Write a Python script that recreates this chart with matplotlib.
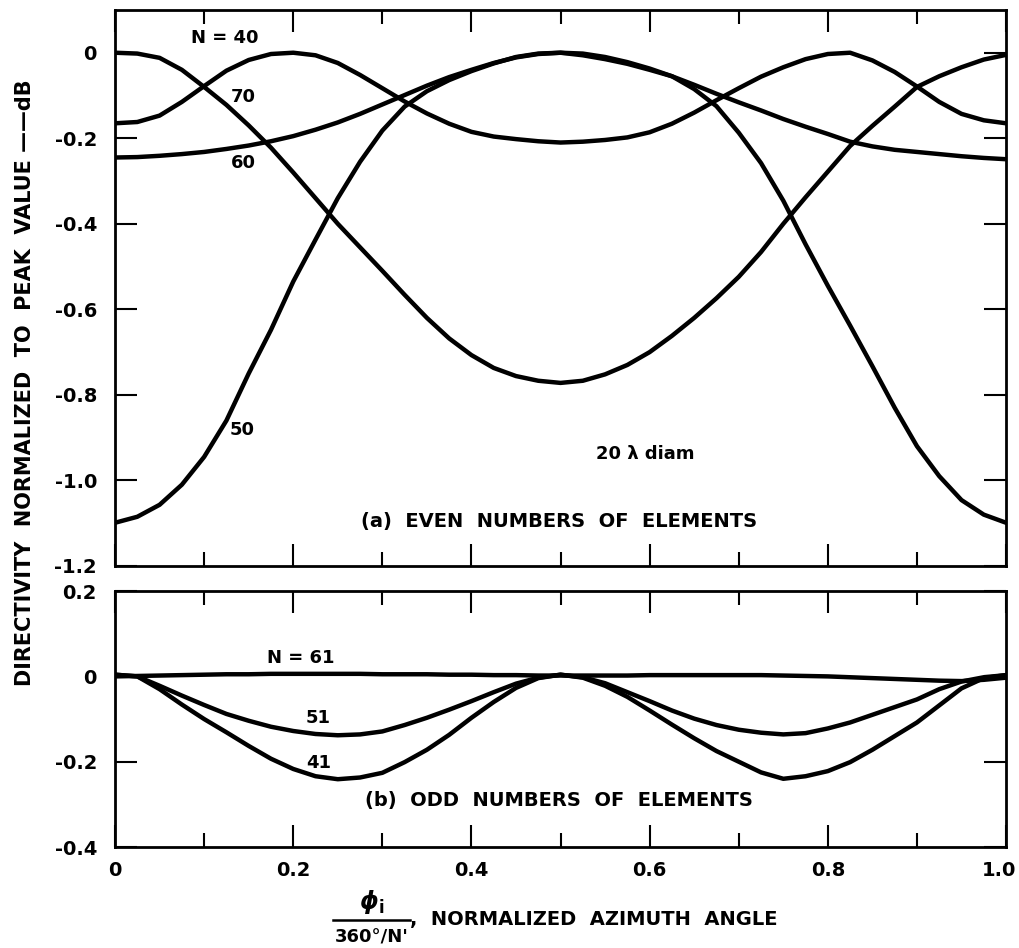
# Directivity vs normalized azimuth angle, 20 lambda diameter ring
import matplotlib.pyplot as plt
from matplotlib.lines import Line2D
from matplotlib.ticker import MultipleLocator
from matplotlib.transforms import ScaledTranslation

plt.rcParams['font.family'] = ['DejaVu Sans']
plt.rcParams['font.weight'] = 'bold'
plt.rcParams['axes.unicode_minus'] = False

# normalized azimuth angle (phi_i / (360/N))
phi = [0.000, 0.025, 0.050, 0.075, 0.100, 0.125, 0.150, 0.175, 0.200, 0.225,
       0.250, 0.275, 0.300, 0.325, 0.350, 0.375, 0.400, 0.425, 0.450, 0.475,
       0.500, 0.525, 0.550, 0.575, 0.600, 0.625, 0.650, 0.675, 0.700, 0.725,
       0.750, 0.775, 0.800, 0.825, 0.850, 0.875, 0.900, 0.925, 0.950, 0.975, 1.000]

# (a) even numbers of elements, dB relative to peak
even_40 = [0.000, -0.002, -0.012, -0.040, -0.080, -0.122, -0.170, -0.222, -0.280, -0.340,
           -0.400, -0.455, -0.510, -0.566, -0.620, -0.668, -0.707, -0.737, -0.756, -0.767,
           -0.772, -0.767, -0.752, -0.730, -0.700, -0.662, -0.620, -0.574, -0.524, -0.466,
           -0.400, -0.338, -0.278, -0.218, -0.171, -0.126, -0.080, -0.055, -0.034, -0.016, -0.005]
even_50 = [-1.099, -1.085, -1.057, -1.010, -0.945, -0.860, -0.750, -0.648, -0.535, -0.437,
           -0.340, -0.255, -0.182, -0.126, -0.090, -0.064, -0.043, -0.025, -0.010, -0.002,
           0.000, -0.002, -0.010, -0.022, -0.037, -0.055, -0.085, -0.125, -0.187, -0.258,
           -0.346, -0.448, -0.545, -0.638, -0.733, -0.830, -0.920, -0.990, -1.046, -1.080, -1.099]
even_60 = [-0.245, -0.244, -0.241, -0.237, -0.232, -0.225, -0.217, -0.207, -0.195, -0.180,
           -0.163, -0.143, -0.121, -0.099, -0.077, -0.057, -0.040, -0.024, -0.011, -0.003,
           0.000, -0.006, -0.015, -0.026, -0.040, -0.055, -0.075, -0.096, -0.116, -0.135,
           -0.155, -0.173, -0.190, -0.208, -0.219, -0.227, -0.232, -0.237, -0.242, -0.246, -0.249]
even_70 = [-0.165, -0.162, -0.147, -0.115, -0.078, -0.042, -0.017, -0.003, 0.000, -0.006,
           -0.024, -0.052, -0.083, -0.114, -0.142, -0.166, -0.185, -0.196, -0.202, -0.207,
           -0.210, -0.208, -0.204, -0.198, -0.186, -0.166, -0.140, -0.111, -0.083, -0.056,
           -0.034, -0.015, -0.003, 0.000, -0.018, -0.045, -0.079, -0.115, -0.143, -0.158, -0.165]

# (b) odd numbers of elements
odd_41 = [0.004, 0.000, -0.030, -0.066, -0.100, -0.131, -0.163, -0.193, -0.217, -0.234,
          -0.241, -0.237, -0.226, -0.201, -0.172, -0.137, -0.097, -0.060, -0.027, -0.004,
          0.004, -0.003, -0.022, -0.048, -0.080, -0.113, -0.145, -0.175, -0.200, -0.225,
          -0.240, -0.234, -0.222, -0.201, -0.172, -0.140, -0.108, -0.068, -0.028, -0.004, 0.003]
odd_51 = [0.004, 0.000, -0.022, -0.045, -0.067, -0.088, -0.104, -0.118, -0.128, -0.135,
          -0.138, -0.136, -0.129, -0.114, -0.097, -0.078, -0.058, -0.037, -0.017, -0.003,
          0.004, -0.002, -0.016, -0.037, -0.058, -0.080, -0.099, -0.114, -0.125, -0.132,
          -0.136, -0.133, -0.122, -0.108, -0.090, -0.072, -0.054, -0.030, -0.012, -0.002, 0.003]
odd_61 = [0.000, 0.001, 0.002, 0.003, 0.004, 0.005, 0.005, 0.006, 0.006, 0.006,
          0.006, 0.006, 0.005, 0.005, 0.005, 0.004, 0.004, 0.003, 0.003, 0.002,
          0.002, 0.002, 0.002, 0.002, 0.003, 0.003, 0.003, 0.003, 0.003, 0.003,
          0.002, 0.001, 0.000, -0.002, -0.004, -0.006, -0.008, -0.010, -0.011, -0.008, -0.003]

x_ticks = [0, 0.2, 0.4, 0.6, 0.8, 1.0]
x_labels = ['0', '0.2', '0.4', '0.6', '0.8', '1.0']
top_yticks = [0, -0.2, -0.4, -0.6, -0.8, -1.0, -1.2]
top_ylabels = ['0', '-0.2', '-0.4', '-0.6', '-0.8', '-1.0', '-1.2']
bot_yticks = [0.2, 0, -0.2, -0.4]
bot_ylabels = ['0.2', '0', '-0.2', '-0.4']

fig = plt.figure(figsize=(10.19, 9.48), dpi=100)
ax_top = fig.add_axes([0.1129, 0.403, 0.8744, 0.5865])
ax_bot = fig.add_axes([0.1129, 0.1065, 0.8744, 0.270])

lw = 3.2
for y in (even_40, even_50, even_60, even_70):
    ax_top.plot(phi, y, color='black', lw=lw, solid_joinstyle='round')
for y in (odd_41, odd_51, odd_61):
    ax_bot.plot(phi, y, color='black', lw=lw, solid_joinstyle='round')

ax_top.set_ylim(-1.2, 0.1)
ax_top.set_yticks(top_yticks, top_ylabels)
ax_bot.set_ylim(-0.4, 0.2)
ax_bot.set_yticks(bot_yticks, bot_ylabels)

for ax in (ax_top, ax_bot):
    ax.set_xlim(0, 1)
    ax.set_xticks(x_ticks, x_labels)
    ax.xaxis.set_minor_locator(MultipleLocator(0.1))
    ax.tick_params(which='both', direction='in', top=True, right=True,
                   width=1.5, labelsize=14)
    ax.tick_params(which='major', length=16)
    ax.tick_params(which='minor', length=10)
    ax.tick_params(axis='y', pad=13)
    ax.tick_params(axis='x', pad=10)
    for s in ax.spines.values():
        s.set_linewidth(2)
ax_top.tick_params(labelbottom=False)

# keep the "1.0" label inside the figure
last = ax_bot.get_xticklabels()[-1]
last.set_transform(last.get_transform() + ScaledTranslation(-5 / 72, 0, fig.dpi_scale_trans))

# curve labels
fs = 13
ax_top.text(0.123, 0.035, 'N = 40', fontsize=fs, ha='center', va='center')
ax_top.text(0.144, -0.103, '70', fontsize=fs, ha='center', va='center')
ax_top.text(0.144, -0.257, '60', fontsize=fs, ha='center', va='center')
ax_top.text(0.143, -0.882, '50', fontsize=fs, ha='center', va='center')
ax_top.text(0.595, -0.938, '20 λ diam', fontsize=fs, ha='center', va='center')
ax_top.text(0.498, -1.097, '(a)  EVEN  NUMBERS  OF  ELEMENTS', fontsize=14,
            ha='center', va='center')

ax_bot.text(0.208, 0.044, 'N = 61', fontsize=fs, ha='center', va='center')
ax_bot.text(0.228, -0.098, '51', fontsize=fs, ha='center', va='center')
ax_bot.text(0.228, -0.204, '41', fontsize=fs, ha='center', va='center')
ax_bot.text(0.498, -0.292, '(b)  ODD  NUMBERS  OF  ELEMENTS', fontsize=14,
            ha='center', va='center')

# axis titles
fig.text(0.025, 1 - 383 / 948, 'DIRECTIVITY  NORMALIZED  TO  PEAK  VALUE ——dB',
         rotation=90, ha='center', va='center', fontsize=15)
fig.text(372 / 1019, 1 - 902 / 948, r'$\boldsymbol{\phi}_{\mathbf{i}}$', fontsize=17,
         ha='center', va='center')
fig.add_artist(Line2D([333 / 1019, 410 / 1019], [1 - 920 / 948, 1 - 920 / 948],
                      color='black', lw=1.8))
fig.text(372 / 1019, 1 - 937 / 948, "360°/N'", fontsize=13, ha='center', va='center')
fig.text(410 / 1019, 1 - 920 / 948, ',  NORMALIZED  AZIMUTH  ANGLE', fontsize=14,
         ha='left', va='center')

fig.savefig('out.png', dpi=100)
